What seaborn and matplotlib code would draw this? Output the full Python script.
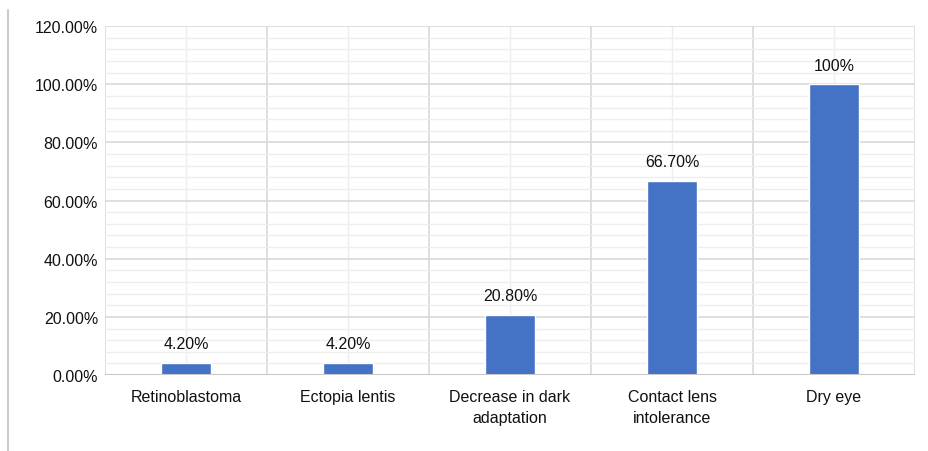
import matplotlib
matplotlib.use("Agg")
import matplotlib.pyplot as plt
from matplotlib.lines import Line2D
from matplotlib.ticker import MultipleLocator, FuncFormatter
import seaborn as sns
import pandas as pd

# -----------------------------
# DATA
# -----------------------------
categories = ["Retinoblastoma", "Ectopia lentis", "Decrease in dark\nadaptation",
              "Contact lens\nintolerance", "Dry eye"]
values = [4.2, 4.2, 20.8, 66.7, 100.0]
value_labels = ["4.20%", "4.20%", "20.80%", "66.70%", "100%"]

df = pd.DataFrame({"category": categories, "value": values})

sns.set_theme(style="white")
plt.rcParams["font.family"] = ["Liberation Sans", "DejaVu Sans"]

fig = plt.figure(figsize=(9.29, 4.52), dpi=100)
ax = fig.add_axes([0.113, 0.168, 0.872, 0.772])

sns.barplot(data=df, x="category", y="value", color="#4472C4",
            width=0.31, saturation=1, ax=ax, zorder=3)

ax.set_ylim(0, 120)
ax.set_xlim(-0.5, len(categories) - 0.5)
ax.yaxis.set_major_locator(MultipleLocator(20))
ax.yaxis.set_minor_locator(MultipleLocator(4))
ax.yaxis.set_major_formatter(FuncFormatter(lambda v, _: f"{v:.2f}%"))

# grid: major horizontal, minor horizontal, category boundaries and centres
ax.grid(which="major", axis="y", color="#d9d9d9", linewidth=1.2, zorder=0)
ax.grid(which="minor", axis="y", color="#eeeeee", linewidth=1.0, zorder=0)
for i in range(len(categories)):
    ax.axvline(i, color="#eeeeee", linewidth=1.0, zorder=0)
for i in range(len(categories) + 1):
    ax.axvline(i - 0.5, color="#d9d9d9", linewidth=1.2, zorder=0)

for s in ax.spines.values():
    s.set_visible(False)
ax.axhline(0, color="#c8c8c8", linewidth=1.5, zorder=4)

for i, lab in enumerate(value_labels):
    ax.text(i, values[i] + 4, lab, ha="center", va="bottom",
            fontsize=11.5, color="#111111")

ax.set_xlabel("")
ax.set_ylabel("")
ax.tick_params(axis="both", which="both", length=0, labelsize=11.5,
               colors="#111111")
ax.tick_params(axis="x", pad=10)
ax.tick_params(axis="y", pad=5)
for t in ax.get_xticklabels():
    t.set_linespacing(1.5)

# light border line on the left of the figure
fig.add_artist(Line2D([0.009, 0.009], [0.0, 0.975], color="#cccccc",
                      linewidth=1.5, transform=fig.transFigure))

plt.savefig("out.png", dpi=100)
